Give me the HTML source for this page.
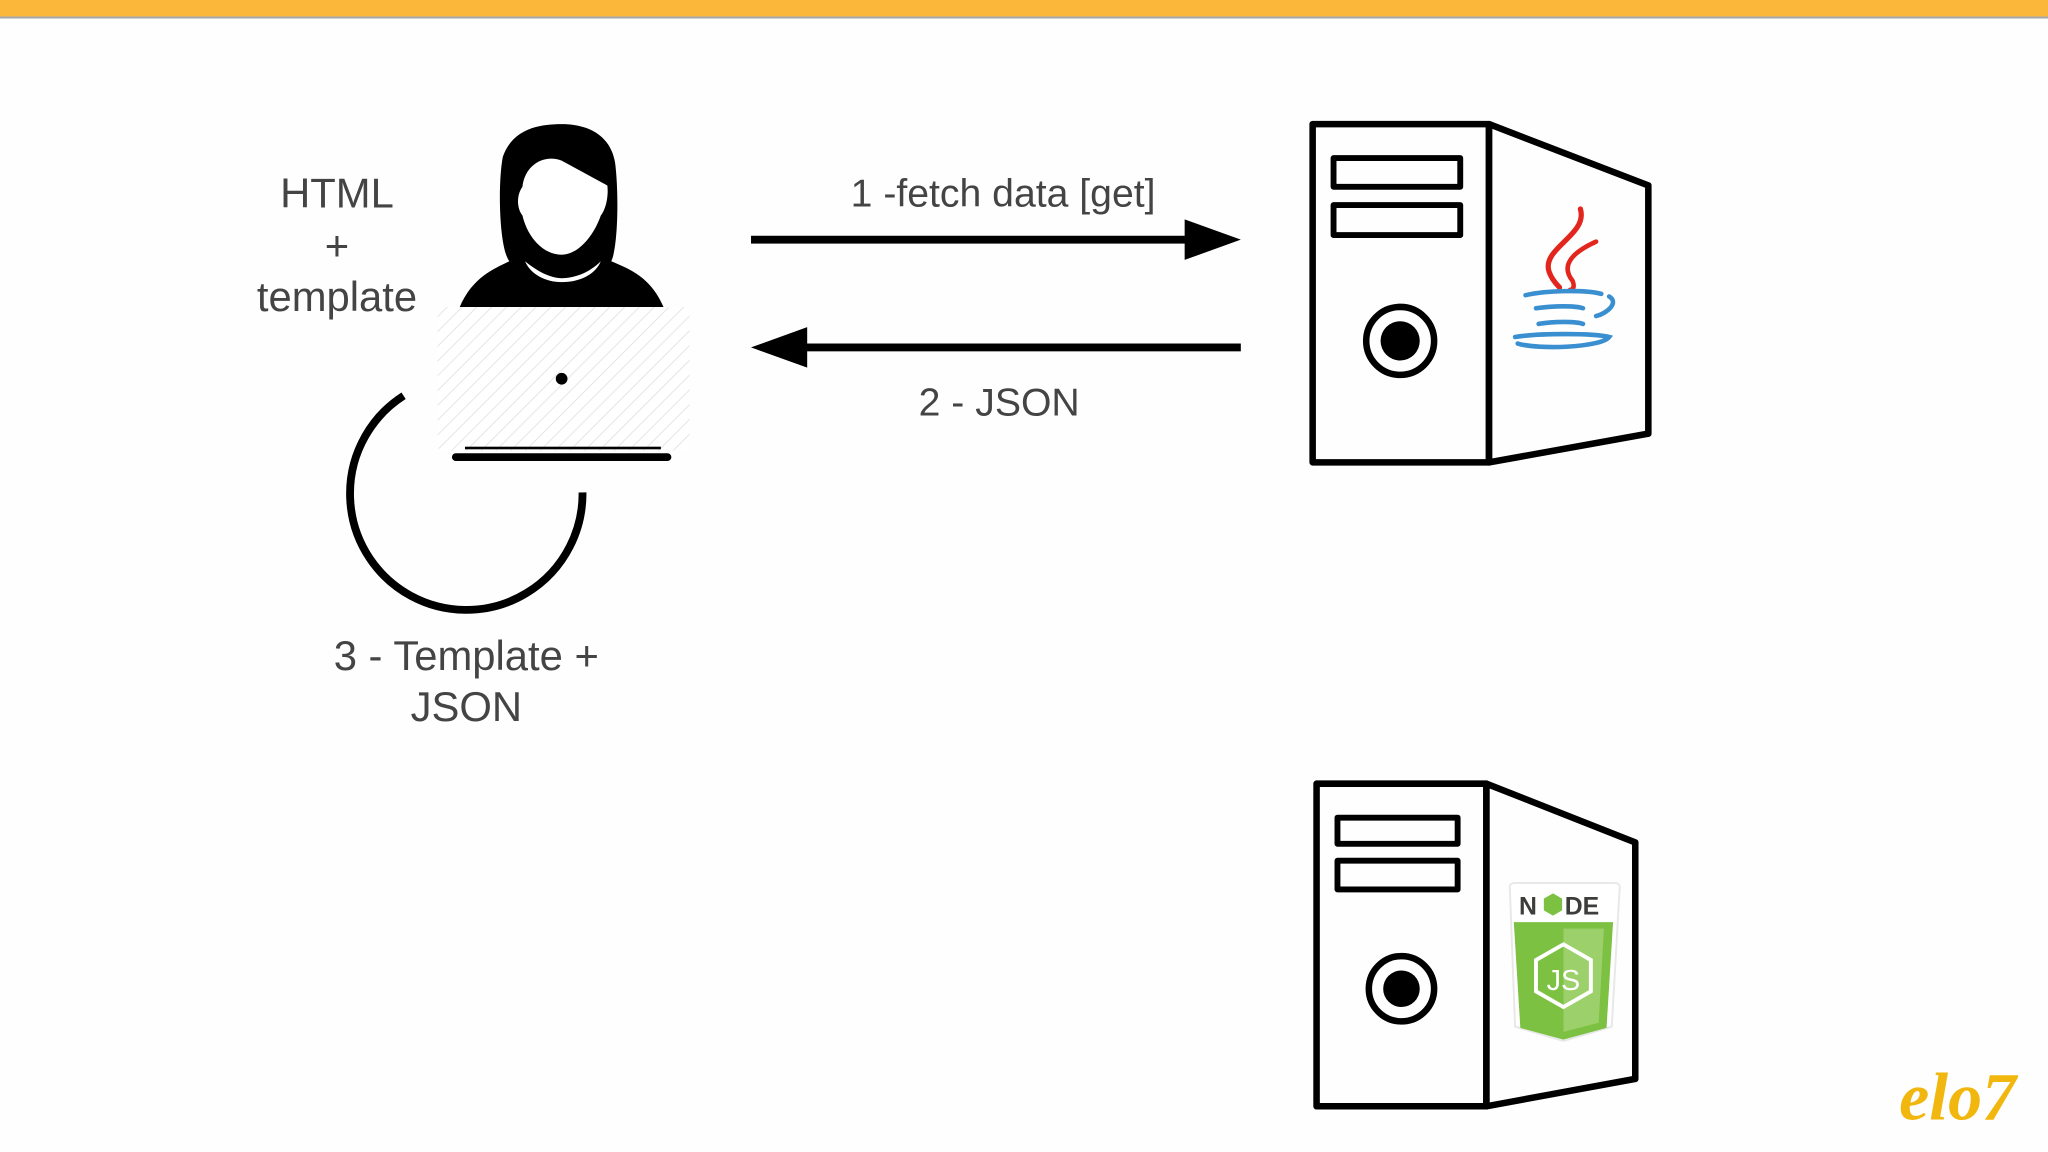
<!DOCTYPE html>
<html><head><meta charset="utf-8"><style>
html,body{margin:0;padding:0;background:#fff;}
svg{display:block;}
text{font-family:"Liberation Sans",sans-serif;fill:#444;}
</style></head><body>
<svg width="2048" height="1152" viewBox="0 0 1568 882" xmlns="http://www.w3.org/2000/svg">
<defs>
<pattern id="hatch" width="8" height="8" patternUnits="userSpaceOnUse" patternTransform="rotate(45)">
<rect width="8" height="8" fill="#fff"/><line x1="0" y1="0" x2="0" y2="8" stroke="#e6e4e8" stroke-width="1.5"/>
</pattern>
</defs>
<rect x="0" y="0" width="1568" height="882" fill="#fefefe"/>
<rect x="0" y="0" width="1568" height="12.6" fill="#fbb73a"/>
<rect x="0" y="12.6" width="1568" height="1.6" fill="#a8a8a8"/>

<!-- left labels -->
<text x="258" y="159" font-size="32" text-anchor="middle">HTML</text>
<text x="258" y="199" font-size="32" text-anchor="middle">+</text>
<text x="258" y="238" font-size="32" text-anchor="middle">template</text>

<!-- woman -->
<path d="M352,235 C362,212 378,206 390,200 C382,190 381,140 385,120 C392,100 410,95 430,95 C452,95 468,105 471,125 C474,150 473,190 468,200 C482,206 498,212 508,235 Z" fill="#000"/>
<path d="M400,143 C402,125 418,118 430,123 L465,142 C466,150 464,160 460,165 C454,182 442,195 430,195 C416,195 404,182 400,165 C396,160 395,150 400,143 Z" fill="#fff"/>
<path d="M402,200 C414,210 424,213 430,213 C438,213 450,210 460,200 C456,210 444,216 430,216 C418,216 406,210 402,200 Z" fill="#fff"/>
<!-- laptop -->
<rect x="335" y="235" width="193" height="110" rx="4" fill="url(#hatch)"/>
<circle cx="430" cy="290" r="4.5" fill="#000"/>
<rect x="356" y="342" width="150" height="2" fill="#000"/>
<rect x="346" y="347" width="168" height="6" rx="3" fill="#000"/>

<!-- loop arc -->
<path d="M309,303 A89,89 0 1 0 446,377" fill="none" stroke="#000" stroke-width="6"/>
<text x="357" y="513" font-size="32" text-anchor="middle">3 - Template +</text>
<text x="357" y="552" font-size="32" text-anchor="middle">JSON</text>

<!-- arrows -->
<rect x="575" y="180.5" width="336" height="6" fill="#000"/>
<polygon points="907,168 950,183.5 907,199" fill="#000"/>
<rect x="615" y="263" width="335" height="6" fill="#000"/>
<polygon points="618,250.5 575,266 618,281.5" fill="#000"/>
<text x="768" y="158" font-size="30" text-anchor="middle">1 -fetch data [get]</text>
<text x="765" y="318" font-size="30" text-anchor="middle">2 - JSON</text>

<!-- server 1 -->
<g fill="none" stroke="#000" stroke-width="5" stroke-linejoin="round">
<rect x="1005" y="95" width="135" height="259"/>
<polygon points="1140,95 1262,142 1262,332 1140,354"/>
<rect x="1021" y="121" width="97" height="22" stroke-width="4.5"/>
<rect x="1021" y="157" width="97" height="23" stroke-width="4.5"/>
<circle cx="1072" cy="261" r="26" stroke-width="5"/>
</g>
<circle cx="1072" cy="261" r="15" fill="#000"/>
<!-- java logo -->
<g fill="none" stroke-linecap="round">
<path d="M1210,160 C1216,180 1180,190 1186,208 C1188,214 1192,218 1194,220" stroke="#e3261d" stroke-width="4"/>
<path d="M1222,185 C1200,195 1196,205 1204,215 C1206,220 1204,222 1202,222" stroke="#e3261d" stroke-width="3.5"/>
<path d="M1168,226 C1185,222 1215,222 1226,225 M1232,227 C1240,232 1230,240 1222,242" stroke="#3a8fd0" stroke-width="3.5"/>
<path d="M1176,236 C1190,234 1206,234 1212,236" stroke="#3a8fd0" stroke-width="3.5"/>
<path d="M1178,248 C1190,246 1206,246 1212,248" stroke="#3a8fd0" stroke-width="3.5"/>
<path d="M1160,258 C1178,255 1220,255 1232,258 C1226,266 1178,268 1162,263" stroke="#3a8fd0" stroke-width="3.5"/>
</g>

<!-- server 2 -->
<g fill="none" stroke="#000" stroke-width="5" stroke-linejoin="round">
<rect x="1008" y="600" width="130" height="247"/>
<polygon points="1138,600 1252,645 1252,826 1138,847"/>
<rect x="1024" y="626" width="92" height="20" stroke-width="4.5"/>
<rect x="1024" y="659" width="92" height="22" stroke-width="4.5"/>
<circle cx="1073" cy="757" r="25"/>
</g>
<circle cx="1073" cy="757" r="14" fill="#000"/>
<!-- node logo -->
<path d="M1156,681 Q1155,676 1160,676 L1236,676 Q1241,676 1240,681 L1234,786 L1197,797 L1160,786 Z" fill="#fff" stroke="#e8e8e8" stroke-width="1.5"/>
<polygon points="1159,706 1235,706 1230,787 1197,796 1164,787" fill="#7cc142"/>
<polygon points="1197,711 1228,711 1224,783 1197,790" fill="#9bd06a"/>
<text x="1163" y="700" font-size="19" font-weight="bold" style="fill:#3d3d3b">N</text>
<polygon points="1182,688 1189,684 1196,688 1196,697 1189,701 1182,697" fill="#7cc142"/>
<text x="1198" y="700" font-size="19" font-weight="bold" style="fill:#3d3d3b">DE</text>
<polygon points="1197,723 1218,735 1218,759 1197,771 1176,759 1176,735" fill="none" stroke="#fff" stroke-width="3"/>
<text x="1197" y="758" font-size="22" text-anchor="middle" style="fill:#fff">JS</text>

<!-- elo7 -->
<text x="1454" y="857" font-size="52" font-style="italic" font-weight="bold" style="fill:#f2b70f;font-family:'Liberation Serif',serif">elo7</text>
</svg>
</body></html>
